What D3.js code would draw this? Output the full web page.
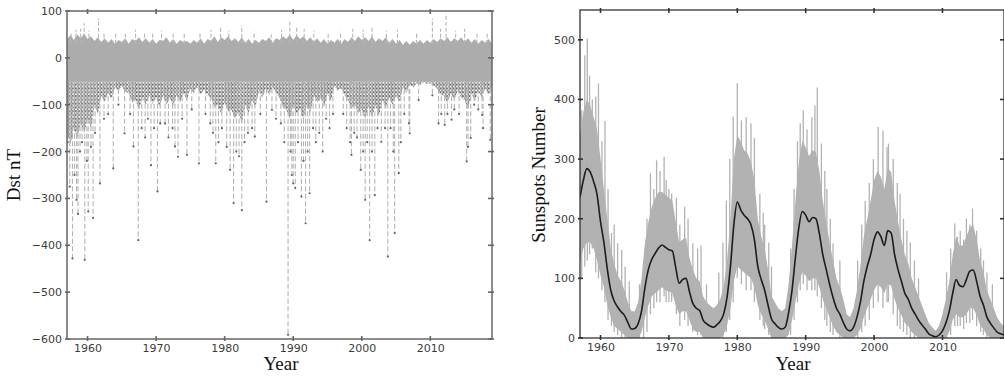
<!DOCTYPE html>
<html>
<head>
<meta charset="utf-8">
<script src="https://cdn.jsdelivr.net/npm/d3@7"></script>
<style>
  body { margin: 0; background: #fff; }
  .tick text { font-family: "DejaVu Sans", sans-serif; font-size: 11px; fill: #3c3c3c; }
  .label { font-family: "Liberation Serif", serif; font-size: 19px; fill: #111; }
</style>
</head>
<body>
<svg id="chart" width="1004" height="376"></svg>
<script>
// ---- shared sampling grid (half years) ----
const halfYears = d3.range(1957, 2019.25, 0.5);

// ---- Dst (left) ----
// upper edge of the dense grey band, one value per half year
const dstTop = [
  40, 48, 38, 50, 42, 52, 40, 46, 36, 44,
  34, 42, 32, 40, 30, 38, 34, 42, 30, 40,
  36, 44, 34, 42, 32, 40, 30, 38, 36, 44,
  32, 40, 30, 38, 34, 36, 30, 38, 32, 42,
  30, 40, 36, 46, 34, 44, 38, 46, 36, 42,
  34, 44, 32, 40, 30, 38, 32, 40, 36, 44,
  32, 42, 38, 46, 40, 50, 38, 48, 40, 46,
  36, 44, 34, 42, 32, 40, 30, 38, 32, 40,
  30, 40, 34, 44, 36, 46, 38, 44, 36, 46,
  34, 42, 36, 44, 32, 40, 30, 38, 28, 36,
  28, 36, 30, 38, 30, 38, 32, 40, 34, 42,
  36, 44, 34, 42, 36, 44, 34, 42, 32, 40,
  30, 38, 32, 40, 30
];
const dstBandBottom = -50;

// lower edge of the dark dotted storm zone, one value per half year
const denseLow = [
  -160, -185, -150, -170, -140, -160, -130, -150, -100, -120,
  -80, -95, -75, -88, -62, -70, -60, -72, -75, -95,
  -90, -110, -85, -100, -80, -98, -85, -105, -80, -100,
  -85, -102, -80, -95, -75, -90, -65, -75, -62, -78,
  -68, -80, -85, -105, -100, -120, -95, -115, -110, -130,
  -115, -140, -100, -118, -90, -105, -70, -85, -65, -78,
  -62, -75, -85, -105, -110, -130, -100, -120, -108, -132,
  -100, -118, -80, -95, -85, -105, -75, -92, -60, -70,
  -65, -80, -90, -110, -100, -118, -110, -130, -105, -128,
  -100, -125, -90, -108, -85, -100, -80, -95, -62, -75,
  -56, -64, -54, -58, -52, -56, -54, -60, -65, -80,
  -80, -98, -75, -90, -70, -85, -90, -110, -75, -92,
  -70, -85, -65, -80, -60
];

// positive excursions
const dstUpYears = [1957.6, 1958.3, 1959.0, 1959.5, 1960.2, 1961.6, 1962.4, 1964.1, 1965.5, 1967.0,
  1968.3, 1969.5, 1970.8, 1972.5, 1974.1, 1976.4, 1978.0, 1979.4, 1980.6, 1982.5,
  1984.3, 1986.8, 1988.3, 1989.5, 1990.5, 1991.6, 1993.0, 1995.1, 1996.9, 1998.7,
  2000.2, 2001.5, 2003.6, 2005.2, 2008.0, 2010.3, 2011.5, 2012.3, 2013.7, 2015.0,
  2016.8, 2018.3];
const dstUpValues = [55, 60, 62, 74, 58, 84, 56, 52, 55, 60,
  55, 52, 58, 54, 56, 52, 60, 64, 58, 70,
  56, 50, 60, 81, 66, 62, 58, 52, 56, 62,
  60, 64, 58, 60, 55, 84, 62, 95, 58, 62,
  54, 52];

// storm minima
const stormYears = [1957.1, 1957.4, 1957.8, 1958.1, 1958.4, 1958.6, 1958.9, 1959.2, 1959.6, 1959.9,
  1960.1, 1960.5, 1960.8, 1961.1, 1961.8, 1962.4, 1963.0, 1963.75, 1964.5, 1965.4,
  1966.2, 1966.7, 1967.4, 1967.9, 1968.4, 1968.8, 1969.25, 1969.7, 1970.2, 1970.6,
  1971.3, 1971.8, 1972.4, 1972.75, 1973.2, 1973.8, 1974.5, 1975.2, 1976.25, 1977.2,
  1977.9, 1978.3, 1978.7, 1979.1, 1979.6, 1980.3, 1980.8, 1981.3, 1981.7, 1982.1,
  1982.5, 1982.9, 1983.4, 1984.0, 1984.4, 1985.2, 1986.1, 1986.9, 1987.5, 1988.2,
  1988.7, 1989.25, 1989.6, 1989.8, 1990.0, 1990.3, 1990.7, 1991.2, 1991.5, 1991.8,
  1992.1, 1992.4, 1992.9, 1993.3, 1993.8, 1994.3, 1994.8, 1995.3, 1995.8, 1997.3,
  1997.8, 1998.3, 1998.5, 1998.9, 1999.3, 1999.85, 2000.2, 2000.5, 2000.8, 2001.15,
  2001.5, 2001.9, 2002.3, 2002.85, 2003.4, 2003.8, 2004.2, 2004.6, 2004.8, 2005.4,
  2005.7, 2006.2, 2006.9, 2007.0, 2008.3, 2010.3, 2011.2, 2011.6, 2012.1, 2012.5,
  2013.1, 2013.5, 2014.2, 2015.3, 2015.5, 2015.9, 2016.4, 2017.0, 2017.55, 2017.7,
  2018.75];
const stormMins = [-180, -275, -428, -250, -303, -333, -200, -180, -431, -220,
  -328, -190, -342, -160, -268, -130, -120, -236, -100, -161,
  -120, -189, -389, -150, -170, -130, -229, -150, -285, -140,
  -140, -170, -150, -189, -211, -130, -207, -110, -225, -120,
  -140, -160, -225, -180, -150, -190, -239, -310, -200, -210,
  -325, -180, -160, -150, -168, -120, -307, -111, -130, -140,
  -180, -591, -200, -250, -268, -278, -180, -296, -220, -353,
  -200, -289, -150, -180, -160, -200, -130, -150, -120, -120,
  -150, -180, -207, -160, -170, -239, -200, -303, -180, -389,
  -200, -293, -150, -179, -150, -424, -150, -200, -374, -246,
  -180, -120, -140, -161, -90, -80, -140, -120, -143, -120,
  -132, -110, -120, -221, -190, -171, -100, -110, -122, -150,
  -175];

// ---- Sunspots (right) ----
const sunSmoothed = [
  236, 265, 284, 278, 262, 240, 195, 160, 115, 80,
  62, 52, 44, 38, 26, 15, 16, 24, 45, 85,
  115, 132, 142, 151, 156, 152, 148, 146, 118, 92,
  98, 100, 78, 58, 50, 46, 30, 24, 20, 18,
  22, 28, 40, 68, 120, 190, 228, 215, 206, 200,
  190, 165, 120, 98, 80, 55, 32, 24, 18, 15,
  18, 42, 80, 135, 185, 212, 206, 195, 202, 200,
  175, 140, 115, 90, 68, 50, 40, 26, 15, 12,
  18, 35, 60, 95, 120, 140, 165, 178, 170, 155,
  180, 176, 140, 115, 95, 75, 65, 50, 40, 30,
  22, 15, 7, 4, 2, 5, 12, 25, 45, 75,
  98, 88, 86, 98, 112, 114, 95, 70, 55, 35,
  25, 17, 10, 7, 5
];
const sunBandHi = [
  340, 380, 400, 390, 370, 350, 300, 250, 200, 150,
  125, 105, 95, 80, 60, 45, 45, 60, 100, 160,
  195, 220, 235, 245, 245, 240, 235, 230, 195, 160,
  165, 168, 135, 115, 100, 95, 70, 60, 55, 50,
  55, 65, 85, 130, 200, 300, 340, 330, 315, 310,
  295, 265, 200, 170, 150, 115, 70, 60, 50, 45,
  50, 90, 155, 230, 295, 330, 320, 305, 315, 312,
  280, 230, 195, 160, 130, 100, 85, 65, 40, 35,
  50, 80, 120, 170, 200, 230, 265, 280, 270, 250,
  285, 278, 230, 195, 165, 140, 125, 100, 85, 70,
  55, 40, 25, 18, 12, 20, 40, 65, 95, 140,
  170, 155, 155, 170, 185, 190, 165, 130, 110, 80,
  65, 50, 35, 25, 20
];
const sunBandLo = [
  130, 150, 160, 160, 150, 130, 105, 85, 55, 35,
  20, 15, 10, 5, 0, 0, 0, 0, 10, 35,
  55, 70, 75, 80, 85, 80, 78, 75, 55, 40,
  45, 45, 30, 15, 10, 10, 0, 0, 0, 0,
  0, 0, 5, 20, 50, 95, 120, 115, 110, 105,
  100, 85, 55, 40, 30, 15, 0, 0, 0, 0,
  0, 5, 30, 60, 90, 110, 105, 95, 100, 100,
  85, 65, 50, 35, 20, 10, 5, 0, 0, 0,
  0, 5, 15, 35, 50, 65, 80, 90, 85, 75,
  90, 88, 65, 50, 38, 25, 20, 10, 5, 0,
  0, 0, 0, 0, 0, 0, 0, 0, 10, 30,
  40, 35, 35, 40, 50, 50, 38, 22, 15, 5,
  0, 0, 0, 0, 0
];
// tall daily spikes: year, low end, high end
const sunSpikeYears = [1957.25, 1957.7, 1958.07, 1958.4, 1958.8, 1959.3, 1959.7, 1960.2, 1960.65, 1961.1,
  1961.6, 1962.0, 1962.5, 1963.1, 1963.6, 1964.2, 1965.7, 1966.3, 1966.8, 1967.3,
  1967.8, 1968.2, 1968.7, 1969.3, 1969.6, 1970.0, 1970.4, 1971.1, 1971.6, 1972.3,
  1972.8, 1973.5, 1974.2, 1974.7, 1975.5, 1977.3, 1977.9, 1978.4, 1978.9, 1979.4,
  1980.0, 1980.6, 1981.3, 1982.0, 1982.5, 1983.3, 1983.8, 1984.0, 1984.6, 1985.0,
  1987.8, 1988.3, 1988.8, 1989.2, 1989.65, 1990.2, 1990.9, 1991.35, 1991.7, 1992.3,
  1992.8, 1993.1, 1993.6, 1994.0, 1995.0, 1997.6, 1998.2, 1998.7, 1999.3, 1999.9,
  2000.6, 2001.3, 2001.9, 2002.1, 2002.8, 2003.4, 2003.8, 2004.3, 2004.8, 2005.3,
  2005.9, 2006.5, 2010.6, 2011.2, 2011.8, 2012.2, 2012.6, 2013.1, 2013.5, 2014.0,
  2014.4, 2015.0, 2015.6, 2016.0, 2016.5, 2017.3];
const sunSpikeLo = [100, 120, 130, 140, 150, 110, 100, 80, 60, 30,
  20, 10, 5, 0, 0, 0, 0, 0, 10, 40,
  50, 60, 60, 70, 60, 60, 60, 40, 20, 30,
  20, 10, 5, 5, 0, 0, 0, 10, 30, 60,
  100, 90, 80, 80, 60, 30, 20, 15, 5, 0,
  5, 30, 60, 80, 90, 80, 80, 80, 70, 50,
  30, 20, 10, 5, 0, 0, 10, 20, 30, 50,
  60, 50, 60, 60, 40, 20, 15, 10, 5, 0,
  0, 0, 0, 5, 20, 20, 20, 15, 25, 25,
  30, 20, 10, 5, 0, 0];
const sunSpikeHi = [382, 474, 502, 440, 400, 405, 427, 330, 364, 250,
  176, 190, 159, 148, 120, 95, 90, 130, 200, 276,
  250, 298, 280, 304, 265, 250, 242, 235, 190, 220,
  200, 159, 150, 155, 90, 110, 160, 230, 300, 371,
  427, 365, 370, 360, 335, 242, 210, 190, 160, 120,
  150, 250, 330, 360, 382, 350, 370, 390, 420, 326,
  280, 250, 200, 159, 130, 130, 190, 230, 260, 300,
  354, 348, 320, 326, 300, 260, 242, 200, 180, 160,
  130, 100, 110, 150, 192, 170, 180, 165, 200, 190,
  217, 180, 150, 130, 110, 90];

const xTicks = [1960, 1970, 1980, 1990, 2000, 2010];
const dstTicks = [-600, -500, -400, -300, -200, -100, 0, 100];
const sunTicks = [0, 100, 200, 300, 400, 500];

// ---- drawing ----
const svg = d3.select("#chart");
const defs = svg.append("defs");

// speckle used for the cloud of storm-time hourly values just below -50 nT
const pat = defs.append("pattern")
  .attr("id", "stormDots")
  .attr("patternUnits", "userSpaceOnUse")
  .attr("width", 3.2).attr("height", 3.8);
pat.append("rect").attr("x", 0.3).attr("width", 1.4).attr("height", 3.8).attr("fill", "#c2c2c2");
pat.append("circle").attr("cx", 2.3).attr("cy", 1.1).attr("r", 1.0).attr("fill", "#626262");
pat.append("circle").attr("cx", 1.0).attr("cy", 3.0).attr("r", 0.8).attr("fill", "#7c7c7c");

function frame(g, x, y, yTickVals, color, width) {
  const [x0, x1] = x.range();
  const [y0, y1] = y.range(); // y0 bottom, y1 top

  const bottom = g.append("g")
    .attr("transform", `translate(0,${y0})`)
    .call(d3.axisBottom(x).tickValues(xTicks).tickFormat(d3.format("d")).tickSize(0).tickPadding(5));
  const left = g.append("g")
    .attr("transform", `translate(${x0},0)`)
    .call(d3.axisLeft(y).tickValues(yTickVals).tickSize(0).tickPadding(5));
  [bottom, left].forEach(a => a.select(".domain").remove());

  // tick marks on all four spines
  const tk = g.append("g").attr("stroke", color).attr("stroke-width", 1.6);
  xTicks.forEach(v => {
    tk.append("line").attr("x1", x(v)).attr("x2", x(v)).attr("y1", y0 - 3).attr("y2", y0 + 2);
    tk.append("line").attr("x1", x(v)).attr("x2", x(v)).attr("y1", y1 - 2).attr("y2", y1 + 3);
  });
  yTickVals.forEach(v => {
    tk.append("line").attr("y1", y(v)).attr("y2", y(v)).attr("x1", x0 - 2).attr("x2", x0 + 3);
    tk.append("line").attr("y1", y(v)).attr("y2", y(v)).attr("x1", x1 - 4).attr("x2", x1 + 2);
  });

  g.append("rect")
    .attr("x", x0).attr("y", y1)
    .attr("width", x1 - x0).attr("height", y0 - y1)
    .attr("fill", "none").attr("stroke", color).attr("stroke-width", width);
}

// ---------- left: Dst ----------
const dx = d3.scaleLinear([1957, 2019], [67, 492]);
const dy = d3.scaleLinear([-600, 100], [339, 11]);

defs.append("clipPath").attr("id", "clipL")
  .append("rect").attr("x", 67).attr("y", 11).attr("width", 425).attr("height", 328);

const L = svg.append("g");
const Lp = L.append("g").attr("clip-path", "url(#clipL)");

Lp.append("path")
  .datum(halfYears)
  .attr("fill", "url(#stormDots)")
  .attr("d", d3.area()
    .x(d => dx(d))
    .y0(dy(dstBandBottom))
    .y1((d, i) => dy(denseLow[i])));

Lp.append("g").selectAll("line")
  .data(stormYears)
  .join("line")
  .attr("x1", d => dx(d)).attr("x2", d => dx(d))
  .attr("y1", dy(dstBandBottom))
  .attr("y2", (d, i) => dy(stormMins[i]))
  .attr("stroke", "#b4b4b4")
  .attr("stroke-width", 1.1)
  .attr("stroke-dasharray", "5,2.5");

Lp.append("g").selectAll("circle")
  .data(stormYears)
  .join("circle")
  .attr("cx", d => dx(d))
  .attr("cy", (d, i) => dy(stormMins[i]))
  .attr("r", 1.1)
  .attr("fill", "#666");

Lp.append("path")
  .datum(halfYears)
  .attr("fill", "#acacac")
  .attr("d", d3.area()
    .x(d => dx(d))
    .y0(dy(dstBandBottom))
    .y1((d, i) => dy(dstTop[i])));

Lp.append("g").selectAll("line")
  .data(dstUpYears)
  .join("line")
  .attr("x1", d => dx(d)).attr("x2", d => dx(d))
  .attr("y1", dy(30))
  .attr("y2", (d, i) => dy(dstUpValues[i]))
  .attr("stroke", "#b4b4b4")
  .attr("stroke-width", 1.1)
  .attr("stroke-dasharray", "4,2");

frame(L, dx, dy, dstTicks, "#666", 1.5);

L.append("text").attr("class", "label")
  .attr("transform", "translate(20,175) rotate(-90)")
  .attr("text-anchor", "middle")
  .text("Dst nT");
L.append("text").attr("class", "label")
  .attr("x", 281).attr("y", 370)
  .attr("text-anchor", "middle")
  .text("Year");

// ---------- right: Sunspots ----------
const sx = d3.scaleLinear([1957, 2019], [580, 1004]);
const sy = d3.scaleLinear([0, 550], [338, 10]);

defs.append("clipPath").attr("id", "clipR")
  .append("rect").attr("x", 580).attr("y", 10).attr("width", 424).attr("height", 328);

const R = svg.append("g");
const Rp = R.append("g").attr("clip-path", "url(#clipR)");

Rp.append("path")
  .datum(halfYears)
  .attr("fill", "#b2b2b2")
  .attr("d", d3.area()
    .x(d => sx(d))
    .y0((d, i) => sy(sunBandLo[i]))
    .y1((d, i) => sy(sunBandHi[i])));

Rp.append("g").selectAll("line")
  .data(sunSpikeYears)
  .join("line")
  .attr("x1", d => sx(d)).attr("x2", d => sx(d))
  .attr("y1", (d, i) => sy(sunSpikeLo[i]))
  .attr("y2", (d, i) => sy(sunSpikeHi[i]))
  .attr("stroke", "#b2b2b2")
  .attr("stroke-width", 1.3);

Rp.append("path")
  .datum(halfYears)
  .attr("fill", "none")
  .attr("stroke", "#1c1c1c")
  .attr("stroke-width", 1.6)
  .attr("stroke-linejoin", "round")
  .attr("d", d3.line()
    .curve(d3.curveMonotoneX)
    .x(d => sx(d))
    .y((d, i) => sy(sunSmoothed[i])));

frame(R, sx, sy, sunTicks, "#333", 1.3);

R.append("text").attr("class", "label")
  .attr("transform", "translate(545,175) rotate(-90)")
  .attr("text-anchor", "middle")
  .text("Sunspots Number");
R.append("text").attr("class", "label")
  .attr("x", 793).attr("y", 370)
  .attr("text-anchor", "middle")
  .text("Year");
</script>
</body>
</html>
